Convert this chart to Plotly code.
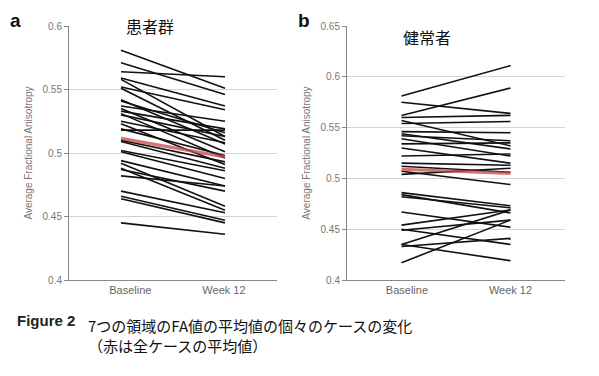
import plotly.graph_objects as go

categories = ["Baseline", "Week 12"]

# Panel a (患者群): baseline -> week 12 per case
a_baseline = [0.581, 0.571, 0.564, 0.559, 0.558, 0.552, 0.551, 0.542, 0.541, 0.537,
              0.535, 0.533, 0.531, 0.530, 0.525, 0.523, 0.519, 0.518, 0.510, 0.509,
              0.502, 0.501, 0.494, 0.492, 0.488, 0.487, 0.482, 0.470, 0.466, 0.464, 0.445]
a_week12 = [0.551, 0.546, 0.560, 0.537, 0.513, 0.534, 0.510, 0.507, 0.516, 0.525,
            0.501, 0.519, 0.496, 0.513, 0.508, 0.491, 0.498, 0.518, 0.493, 0.488,
            0.486, 0.480, 0.474, 0.458, 0.455, 0.470, 0.474, 0.453, 0.447, 0.445, 0.436]
a_mean = [0.5115, 0.497]

# Panel b (健常者)
b_baseline = [0.581, 0.575, 0.562, 0.560, 0.557, 0.554, 0.546, 0.544, 0.542, 0.539,
              0.534, 0.530, 0.522, 0.515, 0.512, 0.507, 0.504, 0.486, 0.484, 0.482,
              0.467, 0.454, 0.449, 0.450, 0.435, 0.433, 0.435, 0.417]
b_week12 = [0.611, 0.564, 0.589, 0.562, 0.532, 0.556, 0.545, 0.529, 0.537, 0.522,
            0.535, 0.515, 0.524, 0.513, 0.506, 0.494, 0.510, 0.473, 0.466, 0.471,
            0.452, 0.469, 0.459, 0.435, 0.469, 0.441, 0.419, 0.459]
b_mean = [0.509, 0.505]

a_yticks = [0.4, 0.45, 0.5, 0.55, 0.6]
b_yticks = [0.4, 0.45, 0.5, 0.55, 0.6, 0.65]

W, H, OFF = 599, 376, 8  # page body margin offsets the figure by 8px


def px(x):
    return (x - OFF) / W


def py(y):
    return 1 - (y - OFF) / H


fig = go.Figure()
xpos = [0, 1]


def add_panel(base, wk, mean, xa, ya):
    for s, e in zip(base, wk):
        fig.add_trace(go.Scatter(x=xpos, y=[s, e], mode="lines",
                                 line=dict(color="#111111", width=1.6),
                                 xaxis=xa, yaxis=ya, showlegend=False, hoverinfo="skip"))
    fig.add_trace(go.Scatter(x=xpos, y=mean, mode="lines",
                             line=dict(color="rgba(200,70,70,0.75)", width=3.2),
                             xaxis=xa, yaxis=ya, showlegend=False))


add_panel(a_baseline, a_week12, a_mean, "x", "y")
add_panel(b_baseline, b_week12, b_mean, "x2", "y2")

gray = "#888888"
tickfont = dict(family="Liberation Sans, Arial", size=10, color="#777777")
ydom = [py(280), py(26)]

xcommon = dict(range=[-0.5, 1.5], showgrid=False, zeroline=False, showline=True,
               linecolor=gray, linewidth=1, ticks="", automargin=False,
               tickfont=dict(family="Liberation Sans, Arial", size=11, color="#666666"))
ycommon = dict(showgrid=True, gridcolor="#d4d4d4", gridwidth=1, zeroline=False,
               showline=True, linecolor=gray, linewidth=1, ticks="outside", ticklen=4,
               tickcolor=gray, tickfont=tickfont, automargin=False,
               title=dict(text="Average Fractional Anisotropy",
                          font=dict(family="Liberation Sans, Arial", size=10, color="#777777"),
                          standoff=8))

fig.update_layout(
    width=W, height=H,
    margin=dict(l=0, r=0, t=0, b=0),
    paper_bgcolor="white", plot_bgcolor="white",
    xaxis=dict(domain=[px(69), px(277)], anchor="y", tickvals=[0.09, 0.99],
               ticktext=categories, **xcommon),
    yaxis=dict(domain=ydom, anchor="x", range=[0.4, 0.6], tickvals=a_yticks, **ycommon),
    xaxis2=dict(domain=[px(347), px(565)], anchor="y2", tickvals=[0.05, 1.0],
                ticktext=categories, **xcommon),
    yaxis2=dict(domain=ydom, anchor="x2", range=[0.4, 0.65], tickvals=b_yticks, **ycommon),
)

ann_font = "Noto Sans CJK JP"
annotations = [
    dict(text="<b>a</b>", x=px(8), y=py(21), xanchor="left", yanchor="middle",
         font=dict(family="Liberation Sans, Arial", size=19, color="#111111")),
    dict(text="<b>b</b>", x=px(296), y=py(21), xanchor="left", yanchor="middle",
         font=dict(family="Liberation Sans, Arial", size=19, color="#111111")),
    dict(text="患者群", x=px(150), y=py(26), xanchor="center", yanchor="middle",
         font=dict(family=ann_font, size=16, color="#111111")),
    dict(text="健常者", x=px(427), y=py(37), xanchor="center", yanchor="middle",
         font=dict(family=ann_font, size=16, color="#111111")),
    dict(text="<b>Figure 2</b>", x=px(15), y=py(320), xanchor="left", yanchor="middle",
         font=dict(family="Liberation Sans, Arial", size=15, color="#222222")),
    dict(text="7つの領域のFA値の平均値の個々のケースの変化<br>（赤は全ケースの平均値）",
         x=px(86), y=py(335), align="left",
         xanchor="left", yanchor="middle", font=dict(family=ann_font, size=15, color="#111111")),
]
for a in annotations:
    a.update(xref="paper", yref="paper", showarrow=False)
fig.update_layout(annotations=annotations)

fig.write_html("out.html")
